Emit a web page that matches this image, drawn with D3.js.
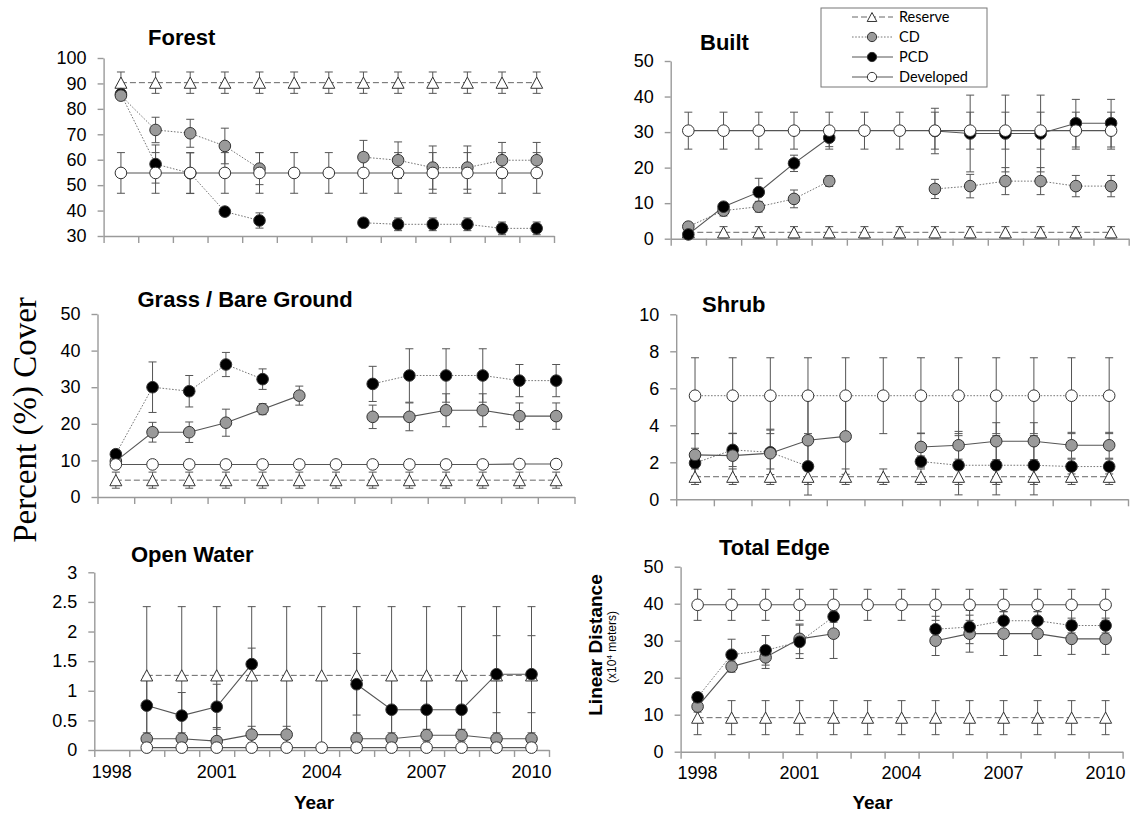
<!DOCTYPE html>
<html><head><meta charset="utf-8">
<script src="https://cdn.jsdelivr.net/npm/d3@7"></script>
<style>body{margin:0;background:#fff}svg{display:block}</style>
</head><body>
<script>
// ---------- categories ----------
const years = [1998,1999,2000,2001,2002,2003,2004,2005,2006,2007,2008,2009,2010];
const shrubYears = [1999,2000,2001,2002,2003,2004,2005,2006,2007,2008,2009,2010];
const yearLabels = [1998,2001,2004,2007,2010];
const seriesNames = ["Reserve","CD","PCD","Developed"];

// ---------- Forest ----------
const forestReserve    = [90.3,90.3,90.3,90.3,90.3,90.3,90.3,90.3,90.3,90.3,90.3,90.3,90.3];
const forestReserveErr = [4.2,4.2,4.2,4.2,4.2,4.2,4.2,4.2,4.2,4.2,4.2,4.2,4.2];
const forestCD         = [85.2,71.7,70.4,65.4,56.5,null,null,61,59.8,56.9,56.9,59.8,59.8];
const forestCDErr      = [1.5,5,5.5,7,6.3,null,null,6.6,7.2,8.5,8.5,7,7];
const forestPCD        = [85.8,58.3,54.7,39.6,36.1,null,null,35.2,34.6,34.6,34.6,33,33];
const forestPCDErr     = [1.5,7.5,8,1.5,3,null,null,1.5,2.5,2.5,2.5,2.5,2.5];
const forestDev        = [54.8,54.8,54.8,54.8,54.8,54.8,54.8,54.8,54.8,54.8,54.8,54.8,54.8];
const forestDevErr     = [8,8,8,8,8,8,8,8,8,8,8,8,8];

// ---------- Built ----------
const builtReserve    = [1.8,1.8,1.8,1.8,1.8,1.8,1.8,1.8,1.8,1.8,1.8,1.8,1.8];
const builtReserveErr = [1.6,1.6,1.6,1.6,1.6,1.6,1.6,1.6,1.6,1.6,1.6,1.6,1.6];
const builtCD         = [3.4,7.9,9,11.2,16.2,null,null,14,14.8,16.2,16.2,14.8,14.8];
const builtCDErr      = [1,1.5,1.5,2.5,1.5,null,null,2.7,3.3,3.8,3.8,3,3];
const builtPCD        = [1.2,9,13.1,21.2,28.4,null,null,30.3,29.6,29.6,29.6,32.5,32.5];
const builtPCDErr     = [0.5,1,3.9,2.3,2.5,null,null,6.4,10.8,10.8,10.8,6.7,6.7];
const builtDev        = [30.4,30.4,30.4,30.4,30.4,30.4,30.4,30.4,30.4,30.4,30.4,30.4,30.4];
const builtDevErr     = [5.2,5.2,5.2,5.2,5.2,5.2,5.2,5.2,5.2,5.2,5.2,5.2,5.2];

// ---------- Grass / Bare Ground ----------
const grassReserve    = [4.6,4.6,4.6,4.6,4.6,4.6,4.6,4.6,4.6,4.6,4.6,4.6,4.6];
const grassReserveErr = [2.2,2.2,2.2,2.2,2.2,2.2,2.2,2.2,2.2,2.2,2.2,2.2,2.2];
const grassCD         = [9.8,17.7,17.7,20.3,24,27.7,null,21.9,21.9,23.7,23.7,22.1,22.1];
const grassCDErr      = [1,2.7,2.8,3.7,1.5,2.6,null,3.2,3.8,4.5,4.5,3.6,3.6];
const grassPCD        = [11.7,30,28.9,36.2,32.2,null,null,30.9,33.2,33.2,33.2,31.8,31.8];
const grassPCDErr     = [1,6.9,4.3,3.3,2.8,null,null,4.8,7.3,7.3,7.3,4.4,4.4];
const grassDev        = [8.9,8.9,8.9,8.9,8.9,8.9,8.9,8.9,8.9,8.9,8.9,9,9];
const grassDevErr     = [0.8,0.8,0.8,0.8,0.8,0.8,0.8,0.8,0.8,0.8,0.8,0.8,0.8];

// ---------- Shrub (1999-2010) ----------
const shrubReserve    = [1.22,1.22,1.22,1.22,1.22,1.22,1.22,1.22,1.22,1.22,1.22,1.22];
const shrubReserveErr = [0.42,0.42,0.42,0.42,0.42,0.42,0.42,0.42,0.42,0.42,0.42,0.42];
const shrubCD         = [2.4,2.36,2.49,3.19,3.4,null,2.83,2.92,3.14,3.14,2.92,2.92];
const shrubCDErr      = [1.15,1.2,1.3,2.2,2.05,null,0.75,0.75,1,1,0.7,0.7];
const shrubPCD        = [1.96,2.67,2.54,1.78,null,null,2.04,1.84,1.84,1.84,1.77,1.77];
const shrubPCDErr     = [0.8,0.9,1.2,1.55,null,null,0.3,1.6,1.6,1.6,0.4,0.4];
const shrubDev        = [5.6,5.6,5.6,5.6,5.6,5.6,5.6,5.6,5.6,5.6,5.6,5.6];
const shrubDevErr     = [2.05,2.05,2.05,2.05,2.05,2.05,2.05,2.05,2.05,2.05,2.05,2.05];

// ---------- Open Water ----------
const owReserve    = [null,1.26,1.26,1.26,1.26,1.26,1.26,1.26,1.26,1.26,1.26,1.26,1.26];
const owReserveErr = [null,1.16,1.16,1.16,1.16,1.16,1.16,1.16,1.16,1.16,1.16,1.16,1.16];
const owCD         = [null,0.19,0.19,0.15,0.26,0.26,null,0.19,0.19,0.25,0.25,0.19,0.19];
const owCDErr      = [null,0.1,0.1,0.23,0.14,0.14,null,0.1,0.1,0.1,0.1,0.1,0.1];
const owPCD        = [null,0.75,0.58,0.73,1.45,null,null,1.11,0.68,0.68,0.68,1.28,1.28];
const owPCDErr     = [null,0.5,0.39,0.38,0.27,null,null,0.52,0.5,0.5,0.5,0.65,0.65];
const owDev        = [null,0.04,0.04,0.04,0.04,0.04,0.04,0.04,0.04,0.04,0.04,0.04,0.04];
const owDevErr     = [null,0,0,0,0,0,0,0,0,0,0,0,0];

// ---------- Total Edge ----------
const teReserve    = [9.2,9.2,9.2,9.2,9.2,9.2,9.2,9.2,9.2,9.2,9.2,9.2,9.2];
const teReserveErr = [4.6,4.6,4.6,4.6,4.6,4.6,4.6,4.6,4.6,4.6,4.6,4.6,4.6];
const teCD         = [12.2,23,25.5,30.5,31.9,null,null,30,31.9,31.9,31.9,30.5,30.5];
const teCDErr      = [1.5,1.5,3,4,6.7,null,null,4,5,5.9,5.9,4.2,4.2];
const tePCD        = [14.7,26.2,27.4,29.7,36.5,null,null,33.1,33.7,35.4,35.4,34.1,34.1];
const tePCDErr     = [1,4.2,4,4.5,1.5,null,null,3.5,4.5,2.5,2.5,2,2];
const teDev        = [39.7,39.7,39.7,39.7,39.7,39.7,39.7,39.7,39.7,39.7,39.7,39.7,39.7];
const teDevErr     = [4.2,4.2,4.2,4.2,4.2,4.2,4.2,4.2,4.2,4.2,4.2,4.2,4.2];

// ---------- tick values ----------
const ticksForest = [30,40,50,60,70,80,90,100];
const ticks50 = [0,10,20,30,40,50];
const ticksShrub = [0,2,4,6,8,10];
const ticksWater = [0,0.5,1,1.5,2,2.5,3];

// ---------- styles ----------
const STY = {
  dashed: {dash:"6,3", color:"#666", w:1},
  dotted: {dash:"1.6,1.6", color:"#777", w:1},
  solid:  {dash:null, color:"#555", w:1.1}
};
const MARK = {
  Reserve:   {shape:"tri", fill:"#fff"},
  CD:        {shape:"circle", fill:"#9a9a9a"},
  PCD:       {shape:"circle", fill:"#000"},
  Developed: {shape:"circle", fill:"#fff"}
};

const panels = [
  {title:"Forest", tx:148, ty:45, cats:years, x0:103.6, x1:554, yTop:58, yBot:236, dom:[30,100], ticks:ticksForest,
   s:{Reserve:[forestReserve,forestReserveErr,"dashed"], PCD:[forestPCD,forestPCDErr,"dotted"], CD:[forestCD,forestCDErr,"dotted"], Developed:[forestDev,forestDevErr,"solid"]}},
  {title:"Built", tx:700, ty:50, cats:years, x0:670.7, x1:1128.7, yTop:61, yBot:238.7, dom:[0,50], ticks:ticks50,
   s:{Reserve:[builtReserve,builtReserveErr,"dashed"], CD:[builtCD,builtCDErr,"dotted"], PCD:[builtPCD,builtPCDErr,"solid"], Developed:[builtDev,builtDevErr,"solid"]}},
  {title:"Grass / Bare Ground", tx:137.5, ty:307, cats:years, x0:97.5, x1:574.5, yTop:314, yBot:497, dom:[0,50], ticks:ticks50,
   s:{Reserve:[grassReserve,grassReserveErr,"dashed"], CD:[grassCD,grassCDErr,"solid"], PCD:[grassPCD,grassPCDErr,"dotted"], Developed:[grassDev,grassDevErr,"solid"]}},
  {title:"Shrub", tx:702, ty:312, cats:shrubYears, x0:676.2, x1:1128, yTop:314.3, yBot:499.3, dom:[0,10], ticks:ticksShrub,
   s:{Reserve:[shrubReserve,shrubReserveErr,"dashed"], PCD:[shrubPCD,shrubPCDErr,"dotted"], CD:[shrubCD,shrubCDErr,"solid"], Developed:[shrubDev,shrubDevErr,"dotted"]}},
  {title:"Open Water", tx:131, ty:562, cats:years, x0:94.3, x1:549, yTop:572.3, yBot:750, dom:[0,3], ticks:ticksWater, labels:true, xTitle:314,
   s:{Reserve:[owReserve,owReserveErr,"dashed"], CD:[owCD,owCDErr,"solid"], PCD:[owPCD,owPCDErr,"solid"], Developed:[owDev,owDevErr,"solid"]}},
  {title:"Total Edge", tx:719, ty:555, cats:years, x0:680.6, x1:1122.6, yTop:566.7, yBot:751.7, dom:[0,50], ticks:ticks50, labels:true, xTitle:872.5,
   s:{Reserve:[teReserve,teReserveErr,"dashed"], CD:[teCD,teCDErr,"solid"], PCD:[tePCD,tePCDErr,"dotted"], Developed:[teDev,teDevErr,"solid"]}}
];

const svg = d3.select("body").append("svg").attr("width",1133).attr("height",813)
  .style("font-family","'Liberation Sans', Arial, sans-serif");

function triPath(s){ return `M0,${-5.6*s}L${6*s},${5.6*s}L${-6*s},${5.6*s}Z`; }

function drawMarker(g, name, cx, cy, scale){
  const m = MARK[name];
  if(m.shape==="tri"){
    g.append("path").attr("d",triPath(scale)).attr("transform",`translate(${cx},${cy})`)
      .attr("fill",m.fill).attr("stroke","#333").attr("stroke-width",1);
  } else {
    g.append("circle").attr("cx",cx).attr("cy",cy).attr("r",5.8*scale)
      .attr("fill",m.fill).attr("stroke","#333").attr("stroke-width",1);
  }
}

panels.forEach(p=>{
  const g = svg.append("g");
  const n = p.cats.length;
  const x = d3.scaleBand().domain(p.cats).range([p.x0,p.x1]).padding(0);
  const xEdge = d3.scaleLinear().domain([0,n]).range([p.x0,p.x1]);
  const y = d3.scaleLinear().domain(p.dom).range([p.yBot,p.yTop]);
  const cx = c => x(c)+x.bandwidth()/2;

  // axes
  const xa = g.append("g").attr("transform",`translate(0,${p.yBot})`)
    .call(d3.axisBottom(xEdge).tickValues(d3.range(n+1)).tickFormat("").tickSize(7).tickSizeOuter(0));
  const ya = g.append("g").attr("transform",`translate(${p.x0},0)`)
    .call(d3.axisLeft(y).tickValues(p.ticks).tickSize(6).tickSizeOuter(0).tickPadding(11).tickFormat(d3.format("")));
  [xa,ya].forEach(a=>{
    a.selectAll("path,line").attr("stroke","#9a9a9a").attr("stroke-width",1.4);
  });
  ya.selectAll("text").attr("font-size",18).attr("fill","#000");

  if(p.labels){
    const la = g.append("g").attr("transform",`translate(0,${p.yBot})`)
      .call(d3.axisBottom(x).tickValues(yearLabels).tickSize(0).tickPadding(15));
    la.select(".domain").remove();
    la.selectAll("text").attr("font-size",18).attr("fill","#000");
    g.append("text").attr("x",p.xTitle).attr("y",809).attr("text-anchor","middle")
      .attr("font-size",19).attr("font-weight","bold").text("Year");
  }

  g.append("text").attr("x",p.tx).attr("y",p.ty).attr("font-size",22).attr("font-weight","bold").text(p.title);

  const order = Object.keys(p.s);
  // lines
  order.forEach(name=>{
    const [vals,,st] = p.s[name];
    const sty = STY[st];
    const line = d3.line().defined(d=>d.v!=null).x(d=>cx(d.c)).y(d=>y(d.v));
    g.append("path").datum(p.cats.map((c,i)=>({c,v:vals[i]})))
      .attr("d",line).attr("fill","none").attr("stroke",sty.color)
      .attr("stroke-width",sty.w).attr("stroke-dasharray",sty.dash);
  });
  // error bars
  order.forEach(name=>{
    const [vals,errs] = p.s[name];
    p.cats.forEach((c,i)=>{
      const v = vals[i], e = errs[i];
      if(v==null || !e) return;
      const lo = Math.max(p.dom[0], v-e), hi = Math.min(p.dom[1], v+e);
      const xx = cx(c);
      const eg = g.append("g").attr("stroke","#555").attr("stroke-width",1);
      eg.append("line").attr("x1",xx).attr("x2",xx).attr("y1",y(lo)).attr("y2",y(hi));
      eg.append("line").attr("x1",xx-4).attr("x2",xx+4).attr("y1",y(hi)).attr("y2",y(hi));
      if(v-e >= p.dom[0]) eg.append("line").attr("x1",xx-4).attr("x2",xx+4).attr("y1",y(lo)).attr("y2",y(lo));
    });
  });
  // markers
  order.forEach(name=>{
    const [vals] = p.s[name];
    p.cats.forEach((c,i)=>{
      if(vals[i]==null) return;
      drawMarker(g,name,cx(c),y(vals[i]),1);
    });
  });
});

// y-axis titles
svg.append("text").attr("transform","translate(36,420) rotate(-90)").attr("text-anchor","middle")
  .attr("font-family","'Liberation Serif', 'Times New Roman', serif").attr("font-size",33).text("Percent (%) Cover");
svg.append("text").attr("transform","translate(602,645) rotate(-90)").attr("text-anchor","middle")
  .attr("font-size",19).attr("font-weight","bold").text("Linear Distance");
const sub = svg.append("text").attr("transform","translate(616,647) rotate(-90)").attr("text-anchor","middle")
  .attr("font-size",12);
sub.append("tspan").text("(x10");
sub.append("tspan").attr("font-size",8).attr("dy",-4).text("4");
sub.append("tspan").attr("dy",4).text(" meters)");

// legend
const lg = svg.append("g");
lg.append("rect").attr("x",821).attr("y",8).attr("width",166).attr("height",79)
  .attr("fill","#fff").attr("stroke","#777").attr("stroke-width",1);
const legendStyles = {Reserve:"dashed", CD:"dotted", PCD:"solid", Developed:"solid"};
const ly = d3.scalePoint().domain(seriesNames).range([17,77]);
seriesNames.forEach(name=>{
  const yy = ly(name), sty = STY[legendStyles[name]];
  lg.append("line").attr("x1",852).attr("x2",893).attr("y1",yy).attr("y2",yy)
    .attr("stroke",sty.color).attr("stroke-width",1).attr("stroke-dasharray",sty.dash);
  drawMarker(lg,name,872,yy,0.8);
  lg.append("text").attr("x",899).attr("y",yy).attr("dy","0.35em").attr("font-family","Lato, 'Open Sans', sans-serif")
    .attr("font-size",14.5).text(name);
});
</script>
</body></html>
